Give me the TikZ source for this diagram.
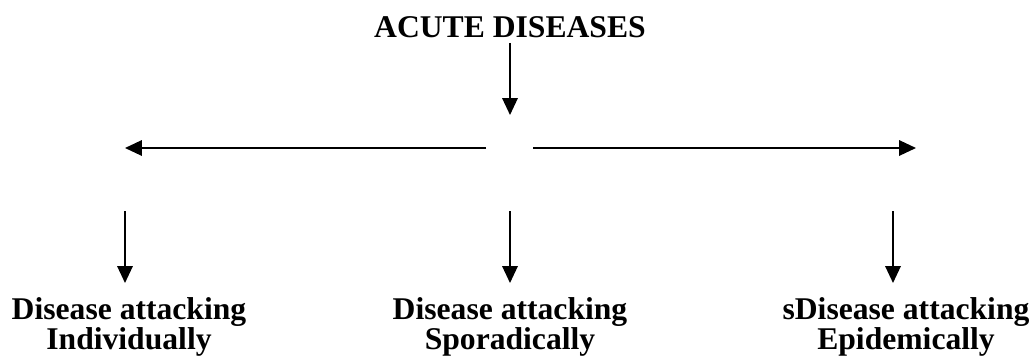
\documentclass[tikz,border=0pt]{standalone}
\usepackage{fontspec}
\setmainfont{Liberation Serif}
\usepackage{tikz}
\usetikzlibrary{positioning,arrows.meta}

\begin{document}
\begin{tikzpicture}[x=0.02cm,y=-0.02cm,
  title/.style={font=\fontsize{18}{17}\selectfont\bfseries,inner sep=0pt},
  kind/.style={font=\fontsize{18}{17.5}\selectfont\bfseries,align=center,inner sep=0pt},
  arr/.style={-{Triangle[length=0.34cm,width=0.31cm]},line width=1.05pt},
]
\useasboundingbox (0,0) rectangle (1034,362);
% —— heading ——
\node[title] (T) at (510,27) {ACUTE DISEASES};
\coordinate (H) at (510,115);
\coordinate (HL) at (486,148);
\coordinate (HR) at (533,148);
\coordinate (L) at (125,148);
\coordinate (R) at (916,148);

% —— three kinds ——
\node[kind] (K1) at (129,327) {Disease attacking\\Individually};
\node[kind] (K2) at (510,327) {Disease attacking\\Sporadically};
\node[kind] (K3) at (906,327) {sDisease attacking\\Epidemically};
\coordinate (D1) at (125,211);
\coordinate (D2) at (510,211);
\coordinate (D3) at (893,211);
\coordinate (E1) at (125,283);
\coordinate (E2) at (510,283);
\coordinate (E3) at (893,283);

\draw[arr] ([yshift=-0.1cm]T.south)--(H);
\draw[arr] (HL)--(L);
\draw[arr] (HR)--(R);
\foreach \s/\t in {D1/E1,D2/E2,D3/E3}
  \draw[arr] (\s)--(\t);
\end{tikzpicture}
\end{document}
